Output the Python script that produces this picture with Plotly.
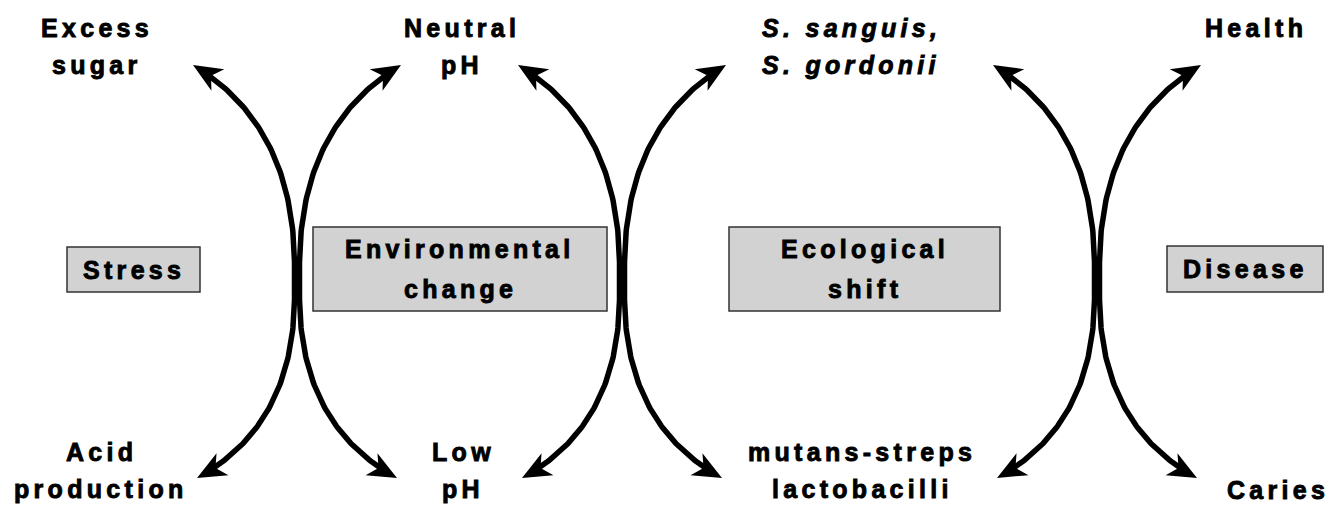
import numpy as np
import plotly.graph_objects as go

# ---- content ----
top_labels = ["Excess<br>sugar", "Neutral<br>pH", "S. sanguis,<br>S. gordonii", "Health"]
bottom_labels = ["Acid<br>production", "Low<br>pH", "mutans-streps<br>lactobacilli", "Caries"]
box_labels = ["Stress", "Environmental<br>change", "Ecological<br>shift", "Disease"]

# ---- layout (pixel space) ----
W, H = 1330, 506
top_label_pos = [(97, 28), (462, 28), (851, 28), (1256, 28)]
top_italic = [False, False, True, False]
bottom_label_pos = [(101, 452), (463, 452), (862, 452), (1278, 490)]
box_rects = [(67, 200, 247, 292), (313, 607, 227, 311), (729, 1000, 227, 311), (1167, 1323, 246, 292)]
cross_x = [297, 622, 1097]
tip_top_y, tip_bot_y = 65, 478
tip_dx_top, tip_dx_bot = 104, 100
join_top, join_bot = 262, 300
LINE_GAP_TOP, LINE_GAP_BOT, LINE_GAP_BOX = 37, 37, 40

FONT = "Liberation Sans, Arial, sans-serif"
FS = 25
LS = "4.3px"


def styled(line, italic=False):
    st = f"letter-spacing:{LS};stroke:black;stroke-width:0.9px"
    if italic:
        st += ";font-style:italic"
    return f"<span style='{st}'>{line}</span>"


def qbez(p0, p1, p2, n=80):
    t = np.linspace(0, 1, n)[:, None]
    return (1 - t) ** 2 * np.array(p0) + 2 * (1 - t) * t * np.array(p1) + t ** 2 * np.array(p2)


fig = go.Figure()
shapes = []
LW = 5.5
HEAD_L, HEAD_W, NOTCH = 29, 12.5, 8


def arrowhead(tip, ctrl):
    tip = np.array(tip, float)
    u = tip - np.array(ctrl, float)
    u /= np.linalg.norm(u)
    n = np.array([-u[1], u[0]])
    back = tip - HEAD_L * u
    bl = back + HEAD_W * n
    br = back - HEAD_W * n
    nt = back + NOTCH * u
    return f"M {tip[0]},{tip[1]} L {bl[0]},{bl[1]} L {nt[0]},{nt[1]} L {br[0]},{br[1]} Z"


for cx in cross_x:
    for s in (-1, 1):
        p0t = (cx + s * 2.5, join_top)
        p1t = (cx + s * 4, 125)
        p2t = (cx + s * tip_dx_top, tip_top_y)
        p0b = (cx + s * 2.5, join_bot)
        p1b = (cx + s * 4, 426)
        p2b = (cx + s * tip_dx_bot, tip_bot_y)
        top = qbez(p0t, p1t, p2t)[::-1]
        bot = qbez(p0b, p1b, p2b)
        top = top[np.linalg.norm(top - np.array(p2t), axis=1) > 16]
        bot = bot[np.linalg.norm(bot - np.array(p2b), axis=1) > 16]
        pts = np.vstack([top, bot])
        fig.add_trace(go.Scatter(x=pts[:, 0], y=pts[:, 1], mode="lines",
                                 line=dict(color="black", width=LW), hoverinfo="skip",
                                 showlegend=False))
        shapes.append(dict(type="path", path=arrowhead(p2t, p1t), fillcolor="black",
                           line=dict(width=0), xref="x", yref="y"))
        shapes.append(dict(type="path", path=arrowhead(p2b, p1b), fillcolor="black",
                           line=dict(width=0), xref="x", yref="y"))

for (x0, x1, y0, y1) in box_rects:
    shapes.append(dict(type="rect", x0=x0, x1=x1, y0=y0, y1=y1, xref="x", yref="y",
                       fillcolor="#d2d2d2", line=dict(color="#333333", width=1.5), layer="below"))

annotations = []


def add_label(label, x, y_first, gap, italic=False):
    for i, ln in enumerate(label.split("<br>")):
        annotations.append(dict(x=x, y=y_first + i * gap, text=styled(ln, italic), showarrow=False,
                                xanchor="center", yanchor="middle"))


for lab, (x, y), it in zip(top_labels, top_label_pos, top_italic):
    add_label(lab, x, y, LINE_GAP_TOP, it)
for lab, (x, y) in zip(bottom_labels, bottom_label_pos):
    add_label(lab, x, y, LINE_GAP_BOT)
for lab, (x0, x1, y0, y1) in zip(box_labels, box_rects):
    n = len(lab.split("<br>"))
    yc = (y0 + y1) / 2 - (n - 1) * LINE_GAP_BOX / 2
    add_label(lab, (x0 + x1) / 2, yc, LINE_GAP_BOX)

fig.update_layout(
    width=W, height=H, margin=dict(l=0, r=0, t=0, b=0),
    paper_bgcolor="white", plot_bgcolor="white",
    xaxis=dict(range=[0, W], visible=False, fixedrange=True),
    yaxis=dict(range=[H, 0], visible=False, fixedrange=True),
    shapes=shapes, annotations=annotations,
    font=dict(family=FONT, size=FS, color="black", weight="bold"),
    showlegend=False,
)

fig.write_html("out.html", config={"displayModeBar": False},
               post_script="document.body.style.margin='0';document.body.style.overflow='hidden';")
